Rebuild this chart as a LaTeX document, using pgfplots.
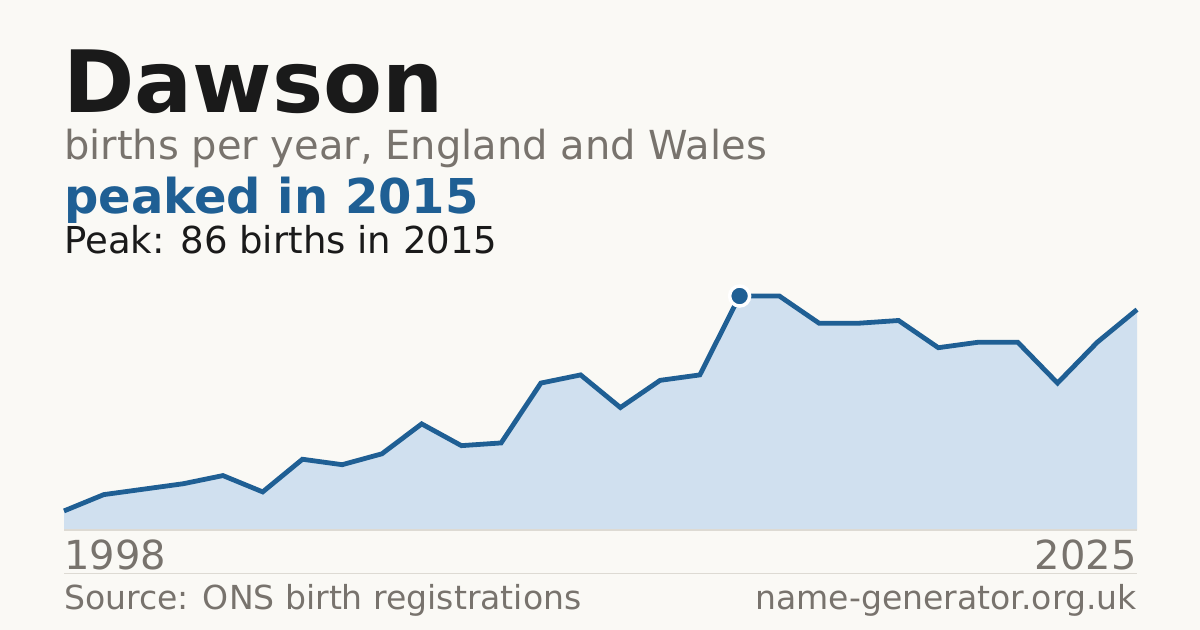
\documentclass[border=0pt]{standalone}
\usepackage{pgfplots}
\pgfplotsset{compat=1.18}
\usepackage{fontspec}
\setmainfont{DejaVu Sans}
\definecolor{bg}{HTML}{FAF9F5}
\definecolor{ink}{HTML}{1A1A1A}
\definecolor{muted}{HTML}{78736D}
\definecolor{accent}{HTML}{1F5F94}
\definecolor{areafill}{HTML}{D0E0EF}
\definecolor{rule}{HTML}{DDDAD3}

\pgfplotstableread{
year births
1998 7
1999 13
2000 15
2001 17
2002 20
2003 14
2004 26
2005 24
2006 28
2007 39
2008 31
2009 32
2010 54
2011 57
2012 45
2013 55
2014 57
2015 86
2016 86
2017 76
2018 76
2019 77
2020 67
2021 69
2022 69
2023 54
2024 69
2025 81
}\births

\begin{document}
\begin{tikzpicture}[x=0.75pt,y=0.75pt]
\fill[bg] (0,0) rectangle (1200,630);

% headings, px from the top turned into y
\node[anchor=base west,inner sep=0pt,text=ink,font=\fontsize{64.5}{64.5}\selectfont\bfseries] at (63,517.3) {Dawson};
\node[anchor=base west,inner sep=0pt,text=muted,font=\fontsize{30}{30}\selectfont] at (64,470.7) {births per year, England and Wales};
\node[anchor=base west,inner sep=0pt,text=accent,font=\fontsize{36}{36}\selectfont\bfseries] at (64,416) {peaked in 2015};
\node[anchor=base west,inner sep=0pt,text=ink,font=\fontsize{27.8}{27.8}\selectfont] at (64,376.7) {Peak: 86 births in 2015};

\begin{axis}[at={(48pt,75pt)},anchor=south west,scale only axis,
    width=804.75pt,height=175.5pt,
    xmin=1998,xmax=2025,ymin=0,ymax=86,
    hide axis,clip=false]
\addplot[fill=areafill,draw=none] table[x=year,y=births] {\births} \closedcycle;
\addplot[accent,line width=3.6pt,line join=miter] table[x=year,y=births] {\births};
\addplot[only marks,mark=*,mark size=7.5pt,
    mark options={fill=accent,draw=white,line width=2.6pt}] coordinates {(2015,86)};
\end{axis}

\draw[rule,line width=1.2pt] (64,100) -- (1137,100);
\draw[rule,line width=0.75pt] (64,56) -- (1137,56);

\node[anchor=base west,inner sep=0pt,text=muted,font=\fontsize{30}{30}\selectfont] at (64,60.7) {1998};
\node[anchor=base east,inner sep=0pt,text=muted,font=\fontsize{30}{30}\selectfont] at (1137,60.7) {2025};
\node[anchor=base west,inner sep=0pt,text=muted,font=\fontsize{24.8}{24.8}\selectfont] at (64,20.7) {Source: ONS birth registrations};
\node[anchor=base east,inner sep=0pt,text=muted,font=\fontsize{24.8}{24.8}\selectfont] at (1137,20.7) {name-generator.org.uk};
\end{tikzpicture}
\end{document}
